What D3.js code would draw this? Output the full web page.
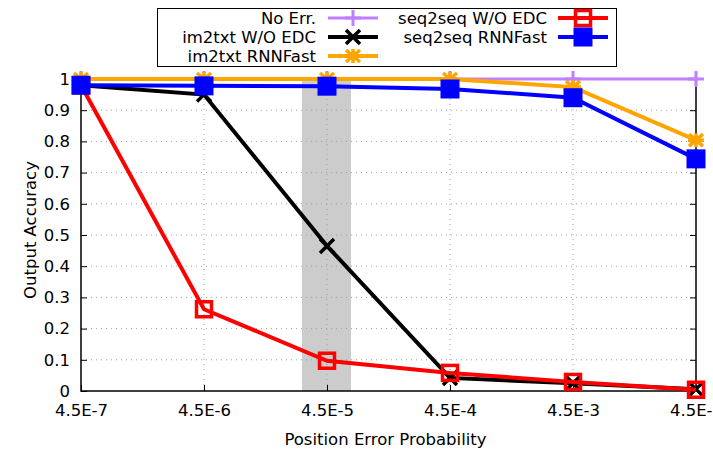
<!DOCTYPE html>
<html>
<head>
<meta charset="utf-8">
<script src="https://cdn.jsdelivr.net/npm/d3@7"></script>
<style>
  body { margin: 0; background: white; }
  svg { font-family: "DejaVu Sans", sans-serif; }
</style>
</head>
<body>
<div id="chart"></div>
<script>
// x categories (error probabilities)
const xLabels = ["4.5E-7", "4.5E-6", "4.5E-5", "4.5E-4", "4.5E-3", "4.5E-2"]
const yTicks = [0, 0.1, 0.2, 0.3, 0.4, 0.5, 0.6, 0.7, 0.8, 0.9, 1]

const noErr = [1, 1, 1, 1, 1, 1]
const im2txtNoEdc = [0.98, 0.95, 0.465, 0.042, 0.025, 0.006]
const im2txtRnnFast = [1, 1, 1, 1, 0.974, 0.804]
const seq2seqNoEdc = [0.98, 0.262, 0.097, 0.058, 0.029, 0.004]
const seq2seqRnnFast = [0.98, 0.978, 0.977, 0.968, 0.94, 0.744]

// shaded band around this category
const bandCategory = "4.5E-5"

const series = [
  { label: "No Err.", values: noErr, color: "#bf80ff", width: 3, marker: "plus" },
  { label: "im2txt W/O EDC", values: im2txtNoEdc, color: "#000000", width: 4, marker: "cross" },
  { label: "im2txt RNNFast", values: im2txtRnnFast, color: "#ffa500", width: 4, marker: "star" },
  { label: "seq2seq W/O EDC", values: seq2seqNoEdc, color: "#ff0000", width: 4, marker: "openSquare" },
  { label: "seq2seq RNNFast", values: seq2seqRnnFast, color: "#0000ff", width: 4, marker: "fillSquare" },
]

const FS = 16.5
const W = 713, H = 450
const margin = { top: 79, right: 17, bottom: 59, left: 81 }
const width = W - margin.left - margin.right
const height = H - margin.top - margin.bottom

const svg = d3.select("#chart").append("svg")
  .attr("width", W).attr("height", H)

const g = svg.append("g")
  .attr("transform", `translate(${margin.left},${margin.top})`)

const x = d3.scalePoint().domain(xLabels).range([0, width])
const y = d3.scaleLinear().domain([0, 1]).range([height, 0])

// shaded band
g.append("rect")
  .attr("x", x(bandCategory) - 25)
  .attr("width", 49)
  .attr("y", 0)
  .attr("height", height)
  .attr("fill", "#cccccc")

// grid lines
g.append("g").selectAll("line")
  .data(yTicks.filter(d => d > 0 && d < 1))
  .join("line")
  .attr("x1", 0).attr("x2", width)
  .attr("y1", d => y(d)).attr("y2", d => y(d))
  .attr("stroke", "#a0a0a0").attr("stroke-width", 1)
  .attr("stroke-dasharray", "1,4")

g.append("g").selectAll("line")
  .data(xLabels.slice(1, -1))
  .join("line")
  .attr("x1", d => x(d)).attr("x2", d => x(d))
  .attr("y1", 0).attr("y2", height)
  .attr("stroke", "#a0a0a0").attr("stroke-width", 1)
  .attr("stroke-dasharray", "1,4")

// axes
const yAxis = g.append("g")
  .call(d3.axisLeft(y).tickValues(yTicks).tickFormat(d3.format("")).tickSize(-6).tickPadding(11))
const yAxisR = g.append("g")
  .attr("transform", `translate(${width},0)`)
  .call(d3.axisRight(y).tickValues(yTicks).tickFormat("").tickSize(-6))
const xAxis = g.append("g")
  .attr("transform", `translate(0,${height})`)
  .call(d3.axisBottom(x).tickSize(-6).tickPadding(13))
const xAxisT = g.append("g")
  .call(d3.axisTop(x).tickFormat("").tickSize(-6))

for (const a of [yAxis, yAxisR, xAxis, xAxisT]) {
  a.select(".domain").remove()
  a.selectAll("line").attr("stroke", "#000")
  a.selectAll("text").attr("font-size", FS).attr("fill", "#000")
    .attr("font-family", "DejaVu Sans, sans-serif")
}

g.append("rect")
  .attr("width", width).attr("height", height)
  .attr("fill", "none").attr("stroke", "#000").attr("stroke-width", 1.5)

// axis titles
svg.append("text")
  .attr("x", margin.left + width / 2 - 3).attr("y", 445)
  .attr("text-anchor", "middle").attr("font-size", FS)
  .text("Position Error Probability")

svg.append("text")
  .attr("transform", `translate(36,230) rotate(-90)`)
  .attr("text-anchor", "middle").attr("font-size", FS)
  .text("Output Accuracy")

// marker drawing
function drawMarker(sel, type, color, cx, cy) {
  const m = sel.append("g").attr("transform", `translate(${cx},${cy})`)
  if (type === "plus") {
    m.append("path").attr("d", "M-8,0H8M0,-8V8")
      .attr("stroke", color).attr("stroke-width", 3)
  } else if (type === "cross") {
    m.append("path").attr("d", "M-7,-7L7,7M-7,7L7,-7")
      .attr("stroke", color).attr("stroke-width", 3.5)
  } else if (type === "star") {
    m.append("path").attr("d", "M-7,-6L7,6M-7,6L7,-6M-8,0H8M0,-7V7")
      .attr("stroke", color).attr("stroke-width", 3.5)
  } else if (type === "openSquare") {
    m.append("rect").attr("x", -7.5).attr("y", -7.5).attr("width", 15).attr("height", 15)
      .attr("fill", "none").attr("stroke", color).attr("stroke-width", 3.5)
  } else if (type === "fillSquare") {
    m.append("rect").attr("x", -9.5).attr("y", -9.5).attr("width", 19).attr("height", 19)
      .attr("fill", color)
  }
}

const line = d3.line()
  .x((d, i) => x(xLabels[i]))
  .y(d => y(d))

series.forEach(s => {
  const sg = g.append("g")
  sg.append("path")
    .datum(s.values)
    .attr("fill", "none")
    .attr("stroke", s.color)
    .attr("stroke-width", s.width)
    .attr("d", line)
  s.values.forEach((v, i) => drawMarker(sg, s.marker, s.color, x(xLabels[i]), y(v)))
})

// legend
const legend = svg.append("g")
legend.append("rect")
  .attr("x", 157.5).attr("y", 8.5).attr("width", 459).attr("height", 58)
  .attr("fill", "white").attr("stroke", "#000").attr("stroke-width", 1)

const legendPos = [
  { tx: 316, lx: 328, ly: 18 },
  { tx: 316, lx: 328, ly: 37 },
  { tx: 316, lx: 328, ly: 56 },
  { tx: 547, lx: 558, ly: 18 },
  { tx: 547, lx: 558, ly: 37 },
]

series.forEach((s, i) => {
  const p = legendPos[i]
  legend.append("text")
    .attr("x", p.tx).attr("y", p.ly).attr("dy", "0.35em")
    .attr("text-anchor", "end").attr("font-size", FS)
    .text(s.label)
  legend.append("line")
    .attr("x1", p.lx).attr("x2", p.lx + 50)
    .attr("y1", p.ly).attr("y2", p.ly)
    .attr("stroke", s.color).attr("stroke-width", s.width)
  drawMarker(legend, s.marker, s.color, p.lx + 25, p.ly)
})
</script>
</body>
</html>
